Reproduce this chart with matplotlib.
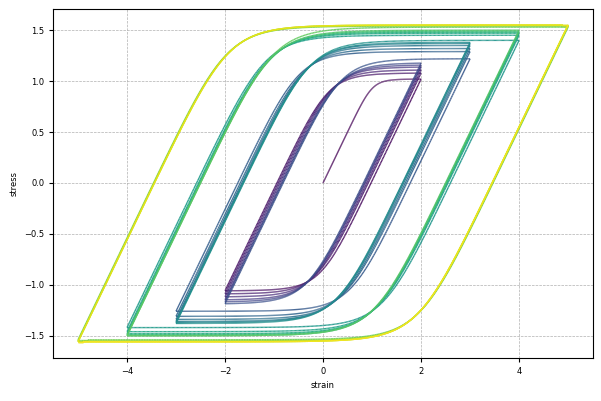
import numpy as np
import matplotlib
matplotlib.use("Agg")
import matplotlib.pyplot as plt
from matplotlib.collections import LineCollection

# ---- data ----
amplitudes = [2, 3, 4, 5]
# plateau (peak) stress of each tension / compression half-cycle, per strain amplitude
amp2_tension = [1.02, 1.08, 1.11, 1.14, 1.16, 1.18]
amp2_compression = [-1.06, -1.09, -1.12, -1.15, -1.17, -1.19]
amp3_tension = [1.22, 1.29, 1.32, 1.35, 1.37, 1.38]
amp3_compression = [-1.26, -1.31, -1.34, -1.36, -1.37, -1.38]
amp4_tension = [1.40, 1.45, 1.47, 1.48, 1.49, 1.50]
amp4_compression = [-1.42, -1.46, -1.48, -1.49, -1.50, -1.50]
amp5_tension = [1.53, 1.54, 1.545, 1.55, 1.55, 1.55]
amp5_compression = [-1.54, -1.55, -1.555, -1.56, -1.56, -1.56]

tension = [amp2_tension, amp3_tension, amp4_tension, amp5_tension]
compression = [amp2_compression, amp3_compression, amp4_compression, amp5_compression]

# branch shape parameters
E = 1.0      # elastic slope
R = 8.0      # sharpness of the elastic-plastic transition
n_pts = 300  # points per half cycle


def branch(e0, s0, e1, sp):
    de = np.linspace(0.0, abs(e1 - e0), n_pts)
    D = abs(sp - s0)
    x = E * de / D
    ds = D * x / (1.0 + x ** R) ** (1.0 / R)
    sgn = np.sign(e1 - e0)
    return e0 + sgn * de, s0 + sgn * ds


eps_all, sig_all = [], []
e, s = 0.0, 0.0
for amp, tens, comp in zip(amplitudes, tension, compression):
    for st, sc in zip(tens, comp):
        ee, ss = branch(e, s, amp, st)
        eps_all.append(ee); sig_all.append(ss)
        e, s = ee[-1], ss[-1]
        ee, ss = branch(e, s, -amp, sc)
        eps_all.append(ee); sig_all.append(ss)
        e, s = ee[-1], ss[-1]

eps = np.concatenate(eps_all)
sig = np.concatenate(sig_all)

pts = np.column_stack([eps, sig]).reshape(-1, 1, 2)
segs = np.concatenate([pts[:-1], pts[1:]], axis=1)
t = np.linspace(0, 1, len(segs))

fig = plt.figure(figsize=(6.01, 4.01), dpi=100)
ax = fig.add_subplot(111)
fig.subplots_adjust(left=0.089, right=0.986, bottom=0.108, top=0.977)

lc = LineCollection(segs, cmap="viridis", linewidth=1.0, alpha=0.9)
lc.set_array(t)
ax.add_collection(lc)
ax.autoscale_view()

ax.grid(True, linestyle="--", linewidth=0.5, color="#b0b0b0")
ax.set_axisbelow(True)
ax.tick_params(labelsize=6, length=3, width=0.8)
ax.set_xlabel("strain", fontsize=6)
ax.set_ylabel("stress", fontsize=6)

fig.savefig("out.png", dpi=100)
